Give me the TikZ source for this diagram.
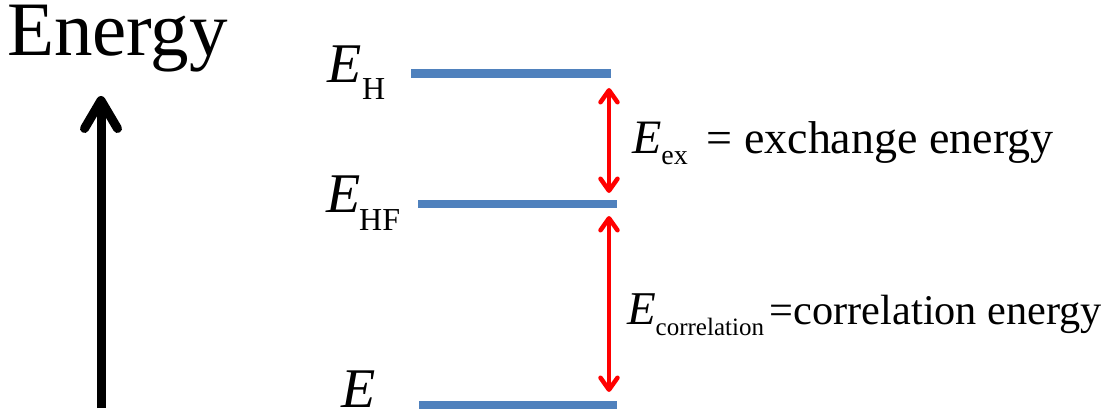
\documentclass[tikz,border=0pt]{standalone}
\usepackage{fontspec}
\setmainfont{Liberation Serif}
\usetikzlibrary{arrows.meta}
\newcommand\myfs[1]{\fontsize{#1}{#1}\selectfont}
\definecolor{levelblue}{HTML}{4F81BD}
\definecolor{arrred}{HTML}{FF0000}
\begin{document}
\begin{tikzpicture}[x=1pt,y=-1pt,
  level/.style={draw=levelblue, line width=8.5pt},
  gap/.style={draw=arrred, line width=4.5pt, {Straight Barb[round,length=12pt,width=17pt]}-{Straight Barb[round,length=12pt,width=17pt]}},
  axis/.style={draw=black, line width=9pt, -{Straight Barb[round,length=28pt,width=33pt]}},
  lbl/.style={anchor=base west, inner sep=0pt, outer sep=0pt}]
\useasboundingbox (0,0) rectangle (1117,412);
% Energy axis
\node[lbl, font=\myfs{77}] (energy) at (7,56) {Energy};
\coordinate (axbot) at (101,408);
\coordinate (axtop) at (101,96);
\draw[axis] (axbot) -- (axtop);
% levels
\coordinate (hL) at (411,73.5);  \coordinate (hR) at (611,73.5);
\coordinate (hfL) at (418,204);  \coordinate (hfR) at (617,204);
\coordinate (eL) at (419,405);   \coordinate (eR) at (617,405);
\draw[level] (hL) -- (hR);
\draw[level] (hfL) -- (hfR);
\draw[level] (eL) -- (eR);
% level labels
\node[lbl] (lh) at (327,83) {\myfs{56}\itshape E\kern1pt\raisebox{-17pt}{\myfs{32}\upshape H}};
\node[lbl] (lhf) at (326,212) {\myfs{56}\itshape E\kern-1pt\raisebox{-18pt}{\myfs{32}\upshape HF}};
\node[lbl] (le) at (341,407) {\myfs{56}\itshape E};
% gap arrows
\coordinate (a1t) at (609,88);  \coordinate (a1b) at (609,193);
\coordinate (a2t) at (609,216); \coordinate (a2b) at (609,392);
\draw[gap] (a1t) -- (a1b);
\draw[gap] (a2t) -- (a2b);
% gap labels
\node[lbl] (lex) at (632,153) {\myfs{48}\itshape E\upshape\raisebox{-11pt}{\myfs{28}ex}\kern19pt{\myfs{46}= exchange energy}};
\node[lbl] (lcor) at (627,324) {\myfs{47}\itshape E\upshape\raisebox{-11pt}{\myfs{25}correlation}\kern6pt{\myfs{42.3}=correlation energy}};
\end{tikzpicture}
\end{document}
